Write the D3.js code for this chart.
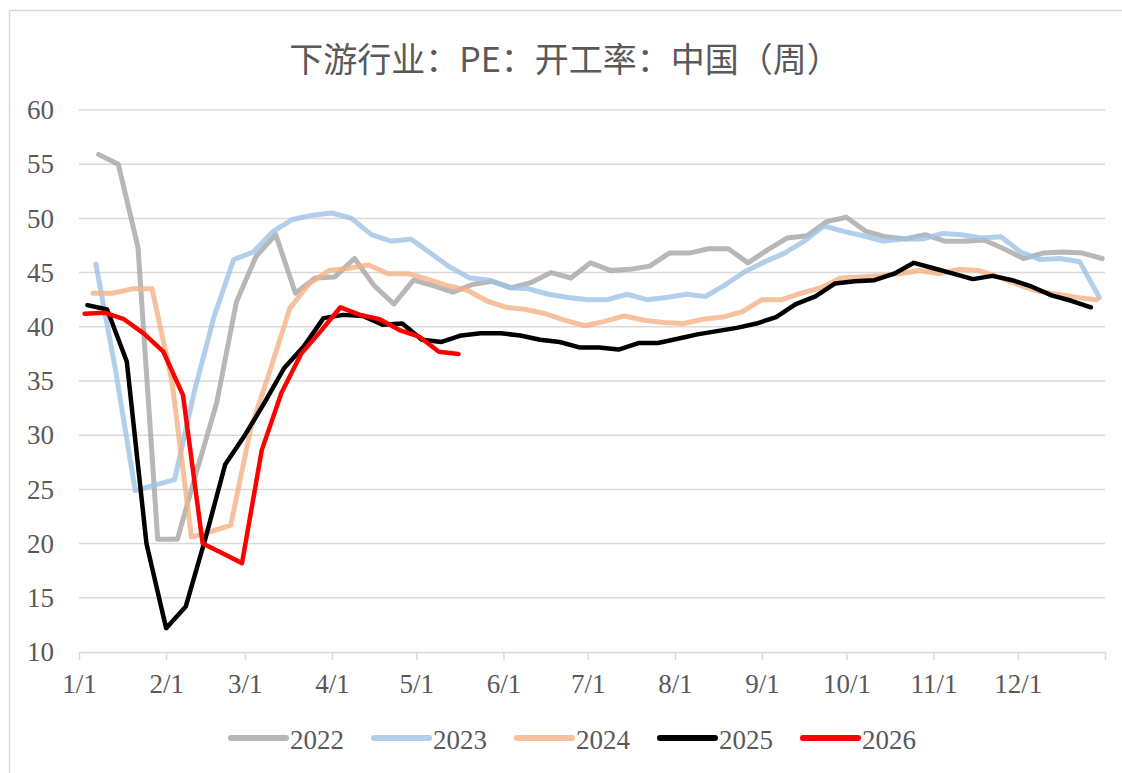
<!DOCTYPE html>
<html>
<head>
<meta charset="utf-8">
<script src="https://cdn.jsdelivr.net/npm/d3@7"></script>
<style>
    body { margin: 0; background: #fff; }
    svg text { fill: #595959; }
</style>
</head>
<body>
<div id="chart"><svg></svg></div>
<script>

var width = 1122,
    height = 773;

var title = "下游行业：PE：开工率：中国（周）";

var years = ["2022", "2023", "2024", "2025", "2026"];
var startDates = ["2022-01-07", "2023-01-06", "2024-01-05", "2025-01-03", "2026-01-02"];
var colors = ["#a5a5a5", "#9dc3e6", "#f4b183", "#000000", "#ff0000"];

var monthLabels = ["1/1", "2/1", "3/1", "4/1", "5/1", "6/1", "7/1", "8/1", "9/1", "10/1", "11/1", "12/1"];
var monthDays = [0, 31, 59, 90, 120, 151, 181, 212, 243, 273, 304, 334];
var yTicks = [10, 15, 20, 25, 30, 35, 40, 45, 50, 55, 60];

// weekly readings, one per Friday
var values2022 = [55.9, 55.0, 47.3, 20.4, 20.4, 26.8, 33.0, 42.3, 46.5, 48.5, 43.1, 44.5, 44.6,
    46.3, 43.8, 42.1, 44.3, 43.8, 43.2, 43.9, 44.2, 43.6, 44.1, 45.0, 44.5, 45.9, 45.2, 45.3,
    45.6, 46.8, 46.8, 47.2, 47.2, 45.9, 47.1, 48.2, 48.4, 49.7, 50.1, 48.8, 48.3, 48.1, 48.5,
    47.9, 47.9, 48.0, 47.2, 46.3, 46.8, 46.9, 46.8, 46.3];
var values2023 = [45.8, 36.0, 24.9, 25.4, 25.9, 34.0, 40.9, 46.2, 46.9, 48.8, 49.9, 50.3, 50.5,
    50.0, 48.5, 47.9, 48.1, 46.8, 45.5, 44.5, 44.3, 43.6, 43.5, 43.0, 42.7, 42.5, 42.5, 43.0,
    42.5, 42.7, 43.0, 42.8, 43.9, 45.1, 46.0, 46.8, 47.9, 49.3, 48.8, 48.4, 47.9, 48.1, 48.1,
    48.6, 48.5, 48.2, 48.3, 46.9, 46.2, 46.3, 46.0, 42.7];
var values2024 = [43.1, 43.1, 43.5, 43.5, 35.1, 20.6, 21.1, 21.7, 30.5, 36.0, 41.7, 44.0, 45.2,
    45.4, 45.7, 44.9, 44.9, 44.4, 43.8, 43.4, 42.4, 41.8, 41.6, 41.2, 40.6, 40.1, 40.5, 41.0,
    40.6, 40.4, 40.3, 40.7, 40.9, 41.4, 42.5, 42.5, 43.1, 43.6, 44.5, 44.6, 44.7, 44.9, 45.2,
    44.9, 45.3, 45.2, 44.6, 43.9, 43.3, 43.0, 42.7, 42.5];
var values2025 = [42.0, 41.6, 36.8, 20.0, 12.2, 14.2, 20.5, 27.3, 30.0, 33.0, 36.2, 38.2, 40.8,
    41.1, 41.0, 40.2, 40.3, 38.8, 38.6, 39.2, 39.4, 39.4, 39.2, 38.8, 38.6, 38.1, 38.1, 37.9,
    38.5, 38.5, 38.9, 39.3, 39.6, 39.9, 40.3, 40.9, 42.1, 42.8, 44.0, 44.2, 44.3, 44.9, 45.9,
    45.4, 44.9, 44.4, 44.7, 44.3, 43.7, 42.9, 42.4, 41.8];
var values2026 = [41.2, 41.3, 40.7, 39.4, 37.7, 33.7, 20.0, 19.1, 18.2, 28.6, 33.9, 37.5, 39.6,
    41.8, 41.1, 40.7, 39.7, 39.1, 37.7, 37.5];

var allValues = [values2022, values2023, values2024, values2025, values2026];

var parseDate = d3.timeParse("%Y-%m-%d");

function build_series(i) {
    var start = parseDate(startDates[i]);
    return allValues[i].map(function(v, k) {
        var d = d3.timeDay.offset(start, 7 * k);
        return { day: d3.timeDay.count(d3.timeYear(d), d), value: v };
    });
}

function run() {
    var svg = d3.select("#chart svg")
        .attr("width", width)
        .attr("height", height);

    // outer frame, open at right and bottom like the original
    svg.append("rect")
        .attr("x", 9.5)
        .attr("y", 10.5)
        .attr("width", 1200)
        .attr("height", 900)
        .attr("fill", "none")
        .attr("stroke", "#d9d9d9")
        .attr("stroke-width", 1.5);

    var x = d3.scaleLinear().domain([0, 365]).range([79, 1105]);
    var y = d3.scaleLinear().domain([10, 60]).range([652, 110]);

    svg.append("text")
        .attr("x", 565)
        .attr("y", 57)
        .attr("text-anchor", "middle")
        .attr("dominant-baseline", "central")
        .style("font-family", "'Noto Sans CJK SC', sans-serif")
        .style("font-size", "34px")
        .text(title);

    // horizontal grid
    svg.append("g")
        .selectAll("line")
        .data(yTicks.filter(function(t) { return t > 10; }))
        .enter().append("line")
            .attr("x1", x(0))
            .attr("x2", x(365))
            .attr("y1", function(d) { return y(d); })
            .attr("y2", function(d) { return y(d); })
            .attr("stroke", "#d9d9d9")
            .attr("stroke-width", 1.5);

    var yAxis = svg.append("g")
        .attr("transform", "translate(" + x(0) + ",0)")
        .call(d3.axisLeft(y).tickValues(yTicks).tickSize(0).tickPadding(25));
    yAxis.select(".domain").remove();

    var xAxis = svg.append("g")
        .attr("transform", "translate(0," + y(10) + ")")
        .call(d3.axisBottom(x)
            .tickValues(monthDays.concat([365]))
            .tickSize(8)
            .tickPadding(14)
            .tickSizeOuter(0)
            .tickFormat(function(d, i) { return monthLabels[i] || ""; }));
    xAxis.select(".domain").attr("stroke", "#d9d9d9").attr("stroke-width", 1.5);
    xAxis.selectAll(".tick line").attr("stroke", "#d9d9d9").attr("stroke-width", 1.5);

    svg.selectAll(".tick text")
        .style("font-family", "'Liberation Serif', serif")
        .style("font-size", "27px")
        .attr("fill", "#595959");

    var line = d3.line()
        .x(function(d) { return x(d.day + 1); })
        .y(function(d) { return y(d.value); });

    years.forEach(function(yr, i) {
        svg.append("path")
            .datum(build_series(i))
            .attr("d", line)
            .attr("fill", "none")
            .attr("stroke", colors[i])
            .attr("stroke-opacity", i < 3 ? 0.8 : 1)
            .attr("stroke-width", i < 3 ? 5 : 4.5)
            .attr("stroke-linejoin", "round")
            .attr("stroke-linecap", "round");
    });

    var legend = svg.append("g")
        .selectAll("g")
        .data(years)
        .enter().append("g")
            .attr("transform", function(d, i) { return "translate(" + (231 + 143 * i) + ",738)"; });

    legend.append("line")
        .attr("x1", 0)
        .attr("x2", 55)
        .attr("stroke", function(d, i) { return colors[i]; })
        .attr("stroke-opacity", function(d, i) { return i < 3 ? 0.8 : 1; })
        .attr("stroke-width", 6)
        .attr("stroke-linecap", "round");

    legend.append("text")
        .attr("x", 59)
        .attr("y", 2)
        .attr("dominant-baseline", "central")
        .style("font-family", "'Liberation Serif', serif")
        .style("font-size", "27px")
        .text(function(d) { return d; });
}

run();

</script>
</body>
</html>
